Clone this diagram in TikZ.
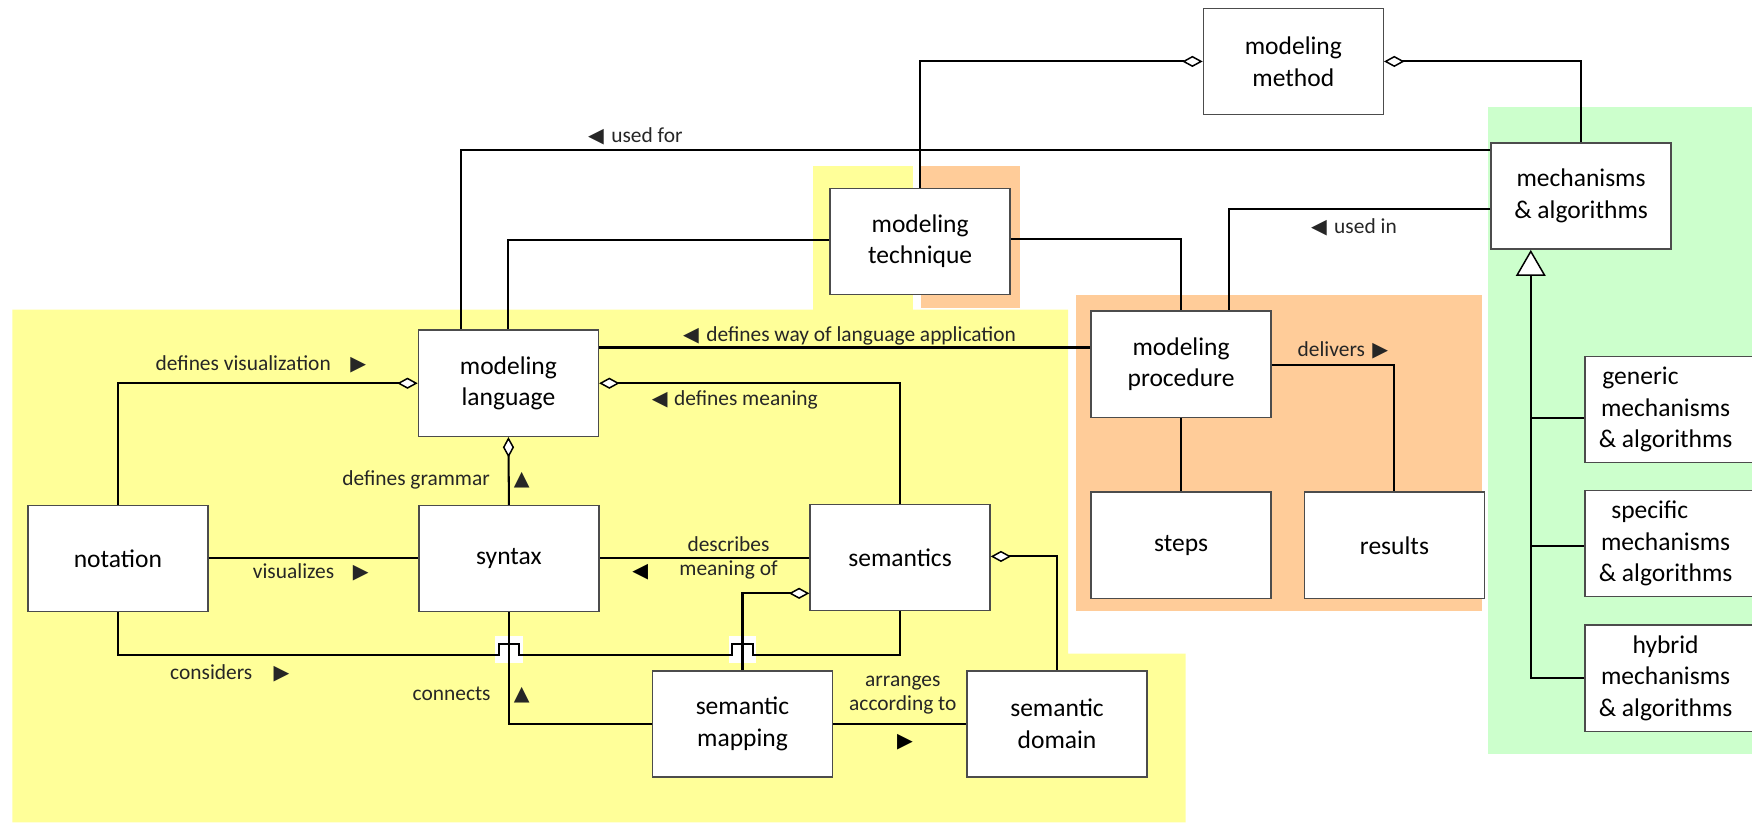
\documentclass[tikz,border=0pt]{standalone}
\usepackage{fontspec}
\setmainfont{Carlito}
\newfontfamily\symf{DejaVu Sans}
\usetikzlibrary{arrows.meta,calc}
\newcommand\myR{{\symf\fontsize{11}{11}\selectfont ▶}}
\newcommand\myL{{\symf\fontsize{11}{11}\selectfont ◀}}
\newcommand\myU{{\symf\fontsize{11}{11}\selectfont ▲}}
\definecolor{ylw}{HTML}{FFFF99}
\definecolor{org}{HTML}{FFCC99}
\definecolor{grn}{HTML}{CCFFCC}
\begin{document}
\begin{tikzpicture}[x=0.6pt,y=-0.6pt,
 box/.style={draw=black!70, line width=0.8pt, fill=white, minimum width=96.6pt, minimum height=57pt, inner sep=0pt, align=center, font=\fontsize{13.7}{17}\selectfont},
 lbl/.style={inner sep=0pt, font=\fontsize{11.5}{13.2}\selectfont, text=black!85, anchor=base west},
 clbl/.style={inner sep=0pt, font=\fontsize{11.5}{13}\selectfont, text=black!85, align=center},
 tri/.style={inner sep=0pt, text=black},
 conn/.style={line width=1.1pt, black},
 agg/.style={conn, {Diamond[fill=white, length=11pt, width=6pt, line width=0.8pt]}-},
 gen/.style={conn, -{Triangle[fill=white, length=14pt, width=16pt, line width=0.8pt]}}
]
\useasboundingbox (0,0) rectangle (1568,736);
% backgrounds
\fill[ylw] (11,277) -- (956,277) -- (956,585) -- (1061,585) -- (1061,736) -- (11,736) -- cycle;
\fill[ylw] (728,149) rectangle (817,277);
\fill[org] (824,149) rectangle (913,276);
\fill[org] (963,264) rectangle (1326,547);
\fill[grn] (1332,96) rectangle (1572,675);

% nodes
\node[box] (method) at (1157.5,55) {modeling\\method};
\node[box] (mech) at (1415,175.5) {mechanisms\\\& algorithms};
\node[box] (tech) at (823.5,216) {modeling\\technique};
\node[box] (ML) at (455,343) {modeling\\language};
\node[box] (proc) at (1057,326) {modeling\\procedure};
\node[box] (notation) at (105.5,500) {notation};
\node[box] (syntax) at (455.5,500) {syntax};
\node[box] (semantics) at (805.5,499) {semantics};
\node[box] (mapping) at (664.5,648) {semantic\\mapping};
\node[box] (domain) at (946,648) {semantic\\domain};
\node[box] (steps) at (1057,488) {steps};
\node[box] (results) at (1248,488) {results};
\node[box] (generic) at (1499,366.5) {generic\rule{37pt}{0pt}\\mechanisms\rule{10pt}{0pt}\\\& algorithms\rule{10pt}{0pt}};
\node[box] (specific) at (1499,486.5) {specific\rule{27pt}{0pt}\\mechanisms\rule{10pt}{0pt}\\\& algorithms\rule{10pt}{0pt}};
\node[box] (hybrid) at (1499,607) {hybrid\rule{10pt}{0pt}\\mechanisms\rule{10pt}{0pt}\\\& algorithms\rule{10pt}{0pt}};

% bridge patches
\fill[white] ($(syntax.south |- 0,586)+(-12.5,-17)$) rectangle ++(25,24);
\fill[white] ($(mapping.north |- 0,586)+(-12.5,-17)$) rectangle ++(25,24);

% connectors
\draw[agg] (method.west) -| (tech.north);
\draw[agg] (method.east) -| (mech.north);
\draw[conn] (mech.west |- 0,134) -| (ML.north -| 413,0);
\draw[conn] (tech.west |- 0,215) -| (ML.north);
\draw[conn] (tech.east |- 0,214) -| (proc.north);
\draw[conn] (mech.west |- 0,187) -| (proc.north -| 1100,0);
\draw[conn] (ML.east |- 0,311) -- (proc.west |- 0,311);
\draw[agg] (ML.west) -| (notation.north);
\draw[agg] (ML.east) -| (semantics.north);
\draw[agg] (ML.south) -- (syntax.north);
\draw[conn] (notation.east |- 0,499) -- (syntax.west |- 0,499);
\draw[conn] (semantics.west |- 0,499) -- (syntax.east |- 0,499);
\draw[conn] (notation.south) |- ($(syntax.south |- 0,586)+(-9,0)$) -- ++(0,-10) -- ++(18,0) -- ++(0,10)
  -- ($(mapping.north |- 0,586)+(-9,0)$) -- ++(0,-10) -- ++(18,0) -- ++(0,10) -| (semantics.south);
\draw[conn] (mapping.west) -| (syntax.south);
\draw[agg] (semantics.west |- 0,531) -| (mapping.north);
\draw[agg] (semantics.east |- 0,498) -| (domain.north);
\draw[conn] (mapping.east) -- (domain.west);
\draw[conn] (proc.south) -- (steps.north);
\draw[conn] (proc.east |- 0,327) -| (results.north);
\coordinate (trunk) at (1370,607);
\draw[gen] (hybrid.west |- trunk) -| (mech.south -| trunk);
\draw[conn] (generic.west |- 0,374) -- (trunk |- 0,374);
\draw[conn] (specific.west |- 0,489) -- (trunk |- 0,489);

% labels
\node[lbl] (lusedfor) at (526,127.5) {\myL\hspace{4pt}used for};
\node[lbl] (lusedin) at (1173,209) {\myL\hspace{4pt}used in};
\node[lbl] (lway) at (611,305.5) {\myL\hspace{4pt}defines way of language application};
\node[lbl] (ldefvis) at (139,331.5) {defines visualization\hspace{10.5pt}\myR};
\node[lbl] (ldefmean) at (583,362.5) {\myL\hspace{3.5pt}defines meaning};
\node[lbl] (lgram) at (306,434.5) {defines grammar\hspace{13pt}\myU};
\node[lbl] (lvis) at (226,517.5) {visualizes\hspace{10pt}\myR};
\node[clbl] (ldesc) at (652,499) {describes\\meaning of};
\node[tri] (tdesc) at (573,512) {\myL};
\node[lbl] (lcons) at (152,608.5) {considers\hspace{11.5pt}\myR};
\node[lbl] (lconn) at (369,626.5) {connects\hspace{12.5pt}\myU};
\node[clbl] (larr) at (808,622) {arranges\\according to};
\node[tri] (tarr) at (810,664) {\myR};
\node[lbl] (ldeliv) at (1161,319.5) {delivers\hspace{4pt}\myR};
\end{tikzpicture}
\end{document}
